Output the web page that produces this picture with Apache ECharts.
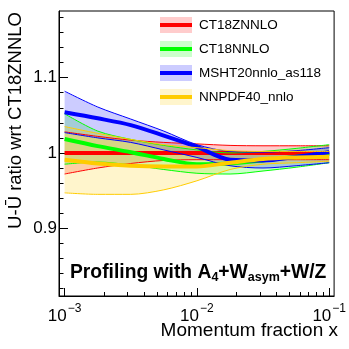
<!DOCTYPE html>
<html>
<head>
<meta charset="utf-8">
<script src="https://cdn.jsdelivr.net/npm/echarts@6/dist/echarts.min.js"></script>
<style>
  html, body { margin: 0; padding: 0; background: #fff; }
  #chart { width: 349px; height: 349px; }
</style>
</head>
<body>
<div id="chart"></div>
<script>
// momentum fraction sample points
const xValues = [0.001, 0.00178, 0.00316, 0.00562, 0.01, 0.0178, 0.0316, 0.0562, 0.1];

// CT18ZNNLO (reference)
const ct18zCentral = [1, 1, 1, 1, 1, 1, 1, 1, 1];
const ct18zUpper = [1.028, 1.022, 1.017, 1.014, 1.012, 1.010, 1.0095, 1.0095, 1.0095];
const ct18zLower = [0.972, 0.980, 0.986, 0.990, 0.991, 0.991, 0.991, 0.991, 0.991];

// CT18NNLO
const ct18Central = [1.0185, 1.009, 1.001, 0.992, 0.985, 0.986, 0.990, 0.995, 0.999];
const ct18Upper = [1.052, 1.029, 1.018, 1.010, 1.004, 1.000, 1.002, 1.006, 1.011];
const ct18Lower = [0.985, 0.988, 0.984, 0.978, 0.973, 0.972, 0.976, 0.981, 0.987];

// MSHT20nnlo_as118
const mshtCentral = [1.054, 1.046, 1.037, 1.023, 1.008, 0.991, 0.990, 0.995, 1.001];
const mshtUpper = [1.082, 1.061, 1.045, 1.029, 1.011, 1.002, 1.001, 1.003, 1.007];
const mshtLower = [1.027, 1.020, 1.014, 1.004, 0.994, 0.983, 0.980, 0.983, 0.987];

// NNPDF40_nnlo
const nnpdfCentral = [0.991, 0.986, 0.983, 0.982, 0.982, 0.987, 0.992, 0.994, 0.995];
const nnpdfUpper = [1.035, 1.026, 1.018, 1.011, 1.007, 1.003, 1.002, 1.002, 1.002];
const nnpdfLower = [0.947, 0.945, 0.945, 0.951, 0.963, 0.978, 0.985, 0.987, 0.989];

const names = ['CT18ZNNLO', 'CT18NNLO', 'MSHT20nnlo_as118', 'NNPDF40_nnlo'];

// axis ticks
const xMajorTicks = [0.001, 0.01, 0.1];
const xMinorTicks = [0.002, 0.003, 0.004, 0.005, 0.006, 0.007, 0.008, 0.009,
  0.02, 0.03, 0.04, 0.05, 0.06, 0.07, 0.08, 0.09];
const yMajorTicks = [0.9, 1, 1.1];
const yMinorTicks = [0.82, 0.84, 0.86, 0.88, 0.92, 0.94, 0.96, 0.98, 1.02, 1.04,
  1.06, 1.08, 1.12, 1.14, 1.16, 1.18];

const models = [
  { name: names[0], c: ct18zCentral, up: ct18zUpper, lo: ct18zLower, color: '#ff0000', fill: 'rgba(255,0,0,0.2)' },
  { name: names[1], c: ct18Central, up: ct18Upper, lo: ct18Lower, color: '#00ff00', fill: 'rgba(0,255,0,0.2)' },
  { name: names[2], c: mshtCentral, up: mshtUpper, lo: mshtLower, color: '#0000ff', fill: 'rgba(0,0,255,0.2)' },
  { name: names[3], c: nnpdfCentral, up: nnpdfUpper, lo: nnpdfLower, color: '#ffcc00', fill: 'rgba(255,204,0,0.2)' },
];

const font = '"Liberation Sans", Arial, sans-serif';

const series = [];
models.forEach(function (m) {
  // band: value first so the stack goes on y, x given by encode
  series.push({
    name: m.name + ' lo',
    type: 'line',
    stack: m.name,
    smooth: 0.3,
    symbol: 'none',
    silent: true,
    encode: { x: 1, y: 0 },
    lineStyle: { color: m.color, width: 1 },
    data: xValues.map((x, i) => [m.lo[i], x]),
  });
  series.push({
    name: m.name + ' band',
    type: 'line',
    stack: m.name,
    smooth: 0.3,
    symbol: 'none',
    silent: true,
    encode: { x: 1, y: 0 },
    lineStyle: { color: m.color, width: 1 },
    areaStyle: { color: m.fill, opacity: 1 },
    data: xValues.map((x, i) => [m.up[i] - m.lo[i], x]),
  });
  series.push({
    name: m.name,
    type: 'line',
    smooth: 0.3,
    symbol: 'none',
    silent: true,
    lineStyle: { color: m.color, width: 4 },
    data: xValues.map((x, i) => [x, m.c[i]]),
  });
});

const legendItems = [];
models.forEach(function (m, i) {
  const yc = 25 + 24 * i;
  legendItems.push({
    type: 'rect',
    shape: { x: 160, y: yc - 8, width: 32, height: 16 },
    style: { fill: m.fill },
  });
  legendItems.push({
    type: 'line',
    shape: { x1: 160, y1: yc, x2: 192, y2: yc },
    style: { stroke: m.color, lineWidth: 4 },
  });
  legendItems.push({
    type: 'text',
    x: 199,
    y: yc,
    style: { text: m.name, font: '13.5px ' + font, fill: '#000', verticalAlign: 'middle' },
  });
});

const chart = echarts.init(document.getElementById('chart'));

const option = {
  animation: false,
  grid: {
    left: 59, right: 11, top: 11, bottom: 53,
    show: true, borderColor: '#000', borderWidth: 1,
  },
  xAxis: [
    {
      type: 'log',
      min: 0.000907,
      max: 0.1089,
      position: 'bottom',
      axisLine: { lineStyle: { color: '#000' } },
      axisTick: { inside: true, length: 8, customValues: xMajorTicks, lineStyle: { color: '#000' } },
      axisLabel: {
        customValues: xMajorTicks,
        margin: 7,
        formatter: function (v) {
          const n = Math.round(Math.log10(v));
          return '{b|10}{e|\u2212' + Math.abs(n) + '}';
        },
        rich: {
          b: { fontFamily: font, fontSize: 17, color: '#000' },
          e: { fontFamily: font, fontSize: 12, color: '#000', padding: [0, 0, 14, 1] },
        },
      },
      splitLine: { show: false },
    },
    {
      type: 'log',
      min: 0.000907,
      max: 0.1089,
      position: 'bottom',
      axisLine: { show: false },
      axisTick: { inside: true, length: 4, customValues: xMinorTicks, lineStyle: { color: '#000' } },
      axisLabel: { show: false },
      splitLine: { show: false },
    },
  ],
  yAxis: [
    {
      type: 'value',
      min: 0.81,
      max: 1.1885,
      position: 'left',
      axisLine: { show: true, lineStyle: { color: '#000' } },
      axisTick: { show: true, inside: true, length: 9, customValues: yMajorTicks, lineStyle: { color: '#000' } },
      axisLabel: { customValues: yMajorTicks, margin: 2, fontFamily: font, fontSize: 17, color: '#000' },
      splitLine: { show: false },
    },
    {
      type: 'value',
      min: 0.81,
      max: 1.1885,
      position: 'left',
      axisLine: { show: false },
      axisTick: { show: true, inside: true, length: 4.5, customValues: yMinorTicks, lineStyle: { color: '#000' } },
      axisLabel: { show: false },
      splitLine: { show: false },
    },
  ],
  graphic: [
    {
      type: 'text',
      x: 16,
      y: 12,
      rotation: Math.PI / 2,
      style: {
        text: 'U-\u016a ratio wrt CT18ZNNLO',
        font: '18.5px ' + font,
        fill: '#000',
        align: 'right',
        verticalAlign: 'middle',
      },
    },
    {
      type: 'text',
      x: 338,
      y: 331,
      style: {
        text: 'Momentum fraction x',
        font: '19px ' + font,
        fill: '#000',
        align: 'right',
        verticalAlign: 'middle',
      },
    },
    {
      type: 'text',
      x: 70,
      y: 273,
      style: {
        text: '{n|Profiling with A}{s|4}{n|+W}{s|asym}{n|+W/Z}',
        verticalAlign: 'middle',
        rich: {
          n: { fontFamily: font, fontWeight: 'bold', fontSize: 19.3, color: '#000' },
          s: { fontFamily: font, fontWeight: 'bold', fontSize: 12.5, color: '#000', padding: [9, 0, 0, 0] },
        },
      },
    },
    { type: 'group', children: legendItems },
  ],
  series: series,
};

chart.setOption(option);
</script>
</body>
</html>
